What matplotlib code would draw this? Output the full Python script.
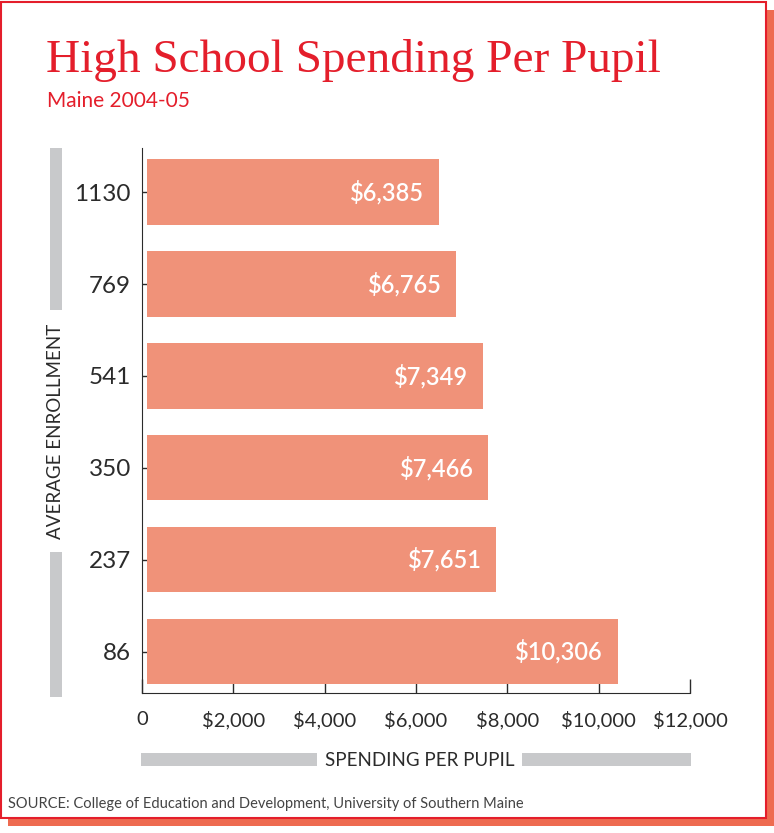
import matplotlib
matplotlib.use("Agg")
import matplotlib.pyplot as plt
from matplotlib.patches import Rectangle

# datos del grafico
enrollment = ["86", "237", "350", "541", "769", "1130"]
spending = [10306, 7651, 7466, 7349, 6765, 6385]
value_labels = ["$10,306", "$7,651", "$7,466", "$7,349", "$6,765", "$6,385"]
x_ticks = [0, 2000, 4000, 6000, 8000, 10000, 12000]
x_tick_labels = ["0", "$2,000", "$4,000", "$6,000", "$8,000", "$10,000", "$12,000"]

W, H = 774, 833
RED = "#e41e2b"
BAR = "#f09279"
GRAY = "#c8c9cb"
DARK = "#2b2b2b"
SANS = ["Lato", "DejaVu Sans"]
SERIF = ["Liberation Serif", "DejaVu Serif"]
BAR_GAP = 110  # pequeño hueco entre el eje y las barras

def fx(px):
    return px / W

def fy(py):
    return 1 - py / H

fig = plt.figure(figsize=(W / 100, H / 100), dpi=100)
fig.patch.set_facecolor("white")

# marco con sombra
fig.patches.append(Rectangle((fx(8), fy(826)), fx(766), 816 / H,
                             transform=fig.transFigure, facecolor="#ee6b50",
                             edgecolor="none", zorder=0))
fig.patches.append(Rectangle((fx(1), fy(818)), fx(765), (818 - 2) / H,
                             transform=fig.transFigure, facecolor="white",
                             edgecolor=RED, linewidth=1.5, zorder=1))

ax = fig.add_axes([fx(142), fy(693), fx(690 - 142), (693 - 148) / H])
ax.set_facecolor("none")
ax.set_zorder(2)

y = list(range(len(enrollment)))
ax.barh(y, spending, left=BAR_GAP, height=0.71, color=BAR, zorder=2)
for yi, v, lab in zip(y, spending, value_labels):
    ax.text(BAR_GAP + v - 320, yi, lab, ha="right", va="center", color="white",
            fontsize=17, fontweight="semibold", family=SANS)

ax.set_xlim(0, 12000)
ax.set_ylim(-0.45, len(enrollment) - 1 + 0.48)
ax.set_yticks(y)
ax.set_yticklabels(enrollment, fontsize=17.5, color=DARK, family=SANS)
ax.set_xticks(x_ticks)
ax.set_xticklabels(x_tick_labels, fontsize=14.5, color=DARK, family=SANS)
ax.tick_params(axis="x", direction="in", length=10, width=1, pad=13, colors=DARK)
ax.tick_params(axis="y", direction="in", length=6, width=1, pad=8, colors=DARK)
ax.spines["top"].set_visible(False)
ax.spines["right"].set_visible(False)
ax.spines["left"].set_color(DARK)
ax.spines["bottom"].set_color(DARK)

# titulos
fig.text(fx(46), fy(72), "High School Spending Per Pupil", fontsize=34,
         color=RED, family=SERIF, va="baseline")
fig.text(fx(47), fy(107), "Maine 2004-05", fontsize=15, color=RED,
         family=SANS, va="baseline")

# etiqueta eje y con barras grises
fig.patches.append(Rectangle((fx(50), fy(310)), fx(12), (310 - 148) / H,
                             transform=fig.transFigure, facecolor=GRAY, zorder=2))
fig.patches.append(Rectangle((fx(50), fy(697)), fx(12), (697 - 552) / H,
                             transform=fig.transFigure, facecolor=GRAY, zorder=2))
fig.text(fx(56), fy(431), "AVERAGE ENROLLMENT", rotation=90, ha="center",
         va="center", fontsize=13.5, color=DARK, family=SANS)

# etiqueta eje x con barras grises
fig.patches.append(Rectangle((fx(141), fy(766)), fx(317 - 141), 13 / H,
                             transform=fig.transFigure, facecolor=GRAY, zorder=2))
fig.patches.append(Rectangle((fx(522), fy(766)), fx(691 - 522), 13 / H,
                             transform=fig.transFigure, facecolor=GRAY, zorder=2))
fig.text(fx(420), fy(760), "SPENDING PER PUPIL", ha="center", va="center",
         fontsize=13.5, color=DARK, family=SANS)

fig.text(fx(8), fy(808), "SOURCE: College of Education and Development, University of Southern Maine",
         fontsize=10.5, color="#444444", family=SANS, va="baseline")

fig.savefig("out.png", dpi=100)
